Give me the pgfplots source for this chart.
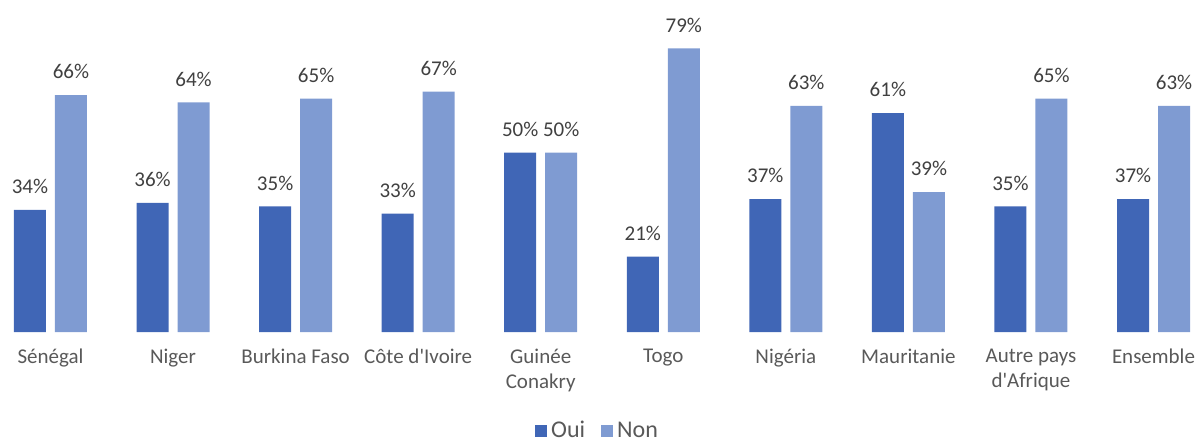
\documentclass[border=0pt]{standalone}
\usepackage{pgfplots}
\pgfplotsset{compat=1.18}
\usepackage{fontspec}
\setmainfont{Carlito}

\definecolor{oui}{HTML}{4066B6}
\definecolor{non}{HTML}{7F9BD2}
\definecolor{lbl}{HTML}{404040}
\definecolor{cat}{HTML}{595959}

\begin{document}
\begin{tikzpicture}
\useasboundingbox (0,-56.5pt) rectangle (598.5pt,166pt);
\begin{axis}[
    scale only axis,
    width=598.5pt, height=166pt,
    xmin=-0.412, xmax=9.355,
    ymin=0, ymax=92.5,
    ybar=4.5pt, bar width=16pt,
    axis line style={draw=none},
    major tick length=0pt,
    ytick=\empty,
    xtick={0,...,9},
    xticklabels={S\'en\'egal, Niger, Burkina Faso, C\^ote d\textquotesingle Ivoire, {Guin\'ee\\Conakry}, Togo, Nig\'eria, Mauritanie, {Autre pays\\d\textquotesingle Afrique}, Ensemble},
    xticklabel style={align=center, font=\fontsize{10.5}{12.5}\selectfont, text=cat, yshift=-5pt},
    nodes near coords={\pgfmathprintnumber{\pgfplotspointmeta}\%},
    nodes near coords style={font=\fontsize{10.5}{12.5}\selectfont, text=lbl, yshift=4.5pt},
    /pgf/number format/assume math mode=true,
    legend columns=2,
    legend style={at={(0.5,0)}, anchor=center, yshift=-49.5pt, draw=none,
        font=\fontsize{12}{14}\selectfont, text=cat,
        /tikz/every even column/.append style={column sep=6pt}},
    legend image code/.code={\fill[#1] (0pt,-3pt) rectangle (6pt,3pt);},
]
\addplot[fill=oui, draw=none] coordinates {
    (0,34) (1,36) (2,35) (3,33) (4,50) (5,21) (6,37) (7,61) (8,35) (9,37)};
\addlegendentry{Oui}
\addplot[fill=non, draw=none] coordinates {
    (0,66) (1,64) (2,65) (3,67) (4,50) (5,79) (6,63) (7,39) (8,65) (9,63)};
\addlegendentry{Non}
\end{axis}
\end{tikzpicture}
\end{document}
